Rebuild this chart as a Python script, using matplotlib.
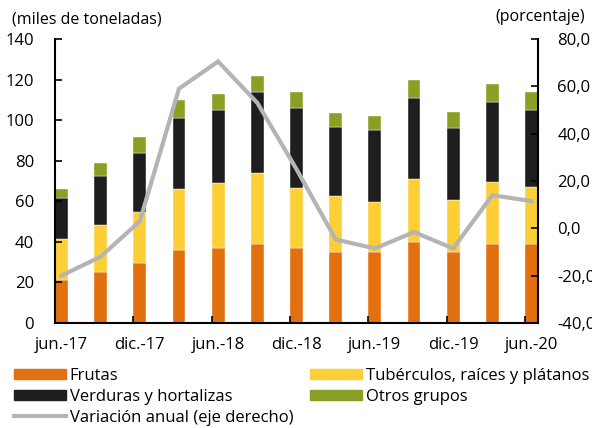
import matplotlib
matplotlib.use("Agg")
import matplotlib.pyplot as plt
from matplotlib.patches import Patch
from matplotlib.lines import Line2D
from matplotlib.ticker import FuncFormatter
import numpy as np

#%% Daten
periodos = ['jun.-17', 'sep.-17', 'dic.-17', 'mar.-18', 'jun.-18', 'sep.-18', 'dic.-18',
            'mar.-19', 'jun.-19', 'sep.-19', 'dic.-19', 'mar.-20', 'jun.-20']
frutas = [21, 25, 29.5, 36, 37, 39, 37, 35, 35, 40, 35, 39, 39]
tuberculos = [20.4, 23.3, 25.2, 30, 32, 35, 29.5, 27.6, 24.6, 31, 25.6, 30.5, 28]
verduras = [20.2, 24.1, 29.3, 35, 36, 40, 39.5, 33.9, 35.4, 40, 35.4, 39.5, 38]
otros = [4.4, 6.4, 7.6, 9, 7.8, 7.7, 8, 6.9, 7, 8.7, 8, 8.7, 9]
variacion = [-20, -12, 3, 59, 70.5, 53, 25, -4.7, -8.5, -1.6, -8.5, 14, 11.5]

c_frutas = '#E3700F'
c_tuber = '#FDCF37'
c_verd = '#1E1E1E'
c_otros = '#88A024'
c_linea = '#B4B4B4'

plt.rcParams['font.family'] = ['Open Sans', 'DejaVu Sans']
fs = 11.5
fs_leg = 12

#%% Plot
fig = plt.figure(figsize=(5.92, 4.28), dpi=100)
ax = fig.add_axes([55/592, 1-323/428, (538-55)/592, (323-39)/428])

x = np.arange(len(periodos))
w = 0.33
bottom = np.zeros(len(x))
for vals, col in [(frutas, c_frutas), (tuberculos, c_tuber), (verduras, c_verd), (otros, c_otros)]:
    ax.bar(x, vals, width=w, bottom=bottom, align='edge', color=col,
           edgecolor='white', linewidth=0.3)
    bottom += np.array(vals)

ax.set_ylim(0, 140)
ax.set_yticks(range(0, 141, 20))
ax.set_xlim(0, 12 + w)

# Achse: Tickmarks an geraden Positionen, Beschriftung in Balkenmitte
ax.set_xticks(x[::2])
ax.set_xticklabels([])
ax.set_xticks(x[::2] + w/2, minor=True)
ax.set_xticklabels(periodos[::2], minor=True, fontsize=fs_leg)
ax.tick_params(axis='x', which='major', direction='in', length=5, width=1.2)
ax.tick_params(axis='x', which='minor', length=0, pad=10)
ax.tick_params(axis='y', direction='in', length=5, width=1.2, pad=15, labelsize=fs_leg)

ax.spines['top'].set_visible(False)
ax.spines['right'].set_visible(False)
for s in ['left', 'bottom']:
    ax.spines[s].set_linewidth(1.5)

ax2 = ax.twinx()
ax2.plot(x + w/2, variacion, color=c_linea, lw=3, solid_joinstyle='miter')
ax2.set_ylim(-40, 80)
ax2.set_yticks(range(-40, 81, 20))
ax2.yaxis.set_major_formatter(FuncFormatter(lambda v, p: f"{v:.1f}".replace('.', ',')))
ax2.tick_params(axis='y', direction='in', length=5, width=1.2, pad=14, labelsize=fs_leg)
ax2.spines['top'].set_visible(False)
ax2.spines['left'].set_visible(False)
ax2.spines['bottom'].set_visible(False)
ax2.spines['right'].set_linewidth(1.5)

fig.text(12/592, 1-19/428, '(miles de toneladas)', fontsize=fs, va='center', ha='left')
fig.text(495/592, 1-17/428, '(porcentaje)', fontsize=fs, va='center', ha='left')

#%% Legende
h1 = [Patch(color=c_frutas), Patch(color=c_verd), Line2D([], [], color=c_linea, lw=3)]
l1 = ['Frutas', 'Verduras y hortalizas', 'Variación anual (eje derecho)']
h2 = [Patch(color=c_tuber), Patch(color=c_otros)]
l2 = ['Tubérculos, raíces y plátanos', 'Otros grupos']
kw = dict(frameon=False, fontsize=fs_leg, handlelength=3.1, handleheight=0.6,
          handletextpad=0.25, labelspacing=0.3, borderpad=0, borderaxespad=0)
fig.legend(h1, l1, loc='upper left', bbox_to_anchor=(14/592, 1-368/428), **kw)
fig.legend(h2, l2, loc='upper left', bbox_to_anchor=(310/592, 1-368/428), **kw)

plt.savefig('out.png', dpi=100)
